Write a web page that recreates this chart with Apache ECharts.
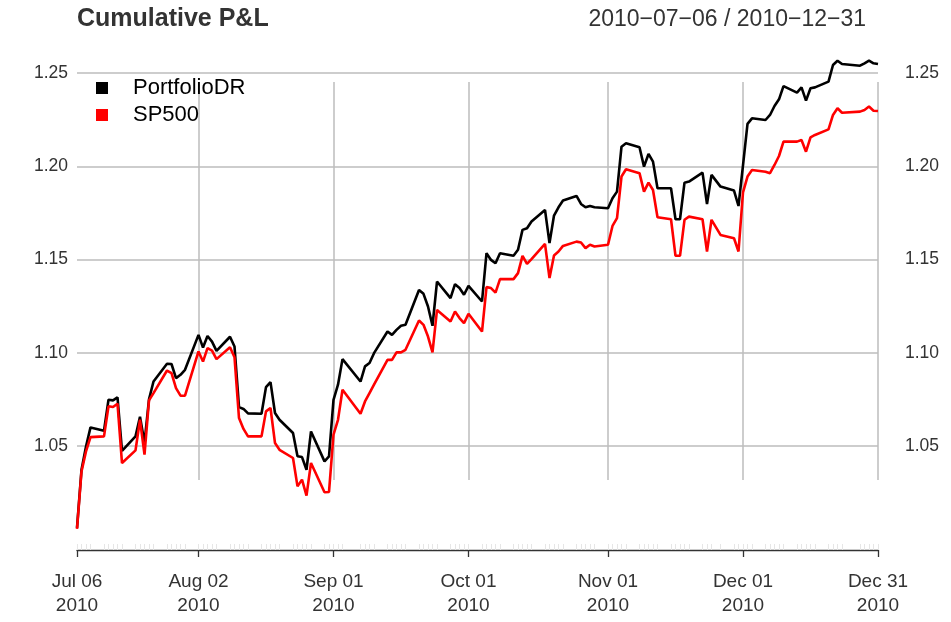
<!DOCTYPE html>
<html><head><meta charset="utf-8">
<script src="https://cdn.jsdelivr.net/npm/echarts@6/dist/echarts.min.js"></script>
<style>html,body{margin:0;padding:0;background:#fff}#chart{width:951px;height:622px}</style>
</head><body><div id="chart"></div>
<script>
const chartTitle = 'Cumulative P&L';
const dateRangeText = '2010\u221207\u221206 / 2010\u221212\u221231';
const seriesNames = ['PortfolioDR', 'SP500'];

// trading days per month (2010)
const julDays = [6,7,8,9,12,13,14,15,16,19,20,21,22,23,26,27,28,29,30];
const augDays = [2,3,4,5,6,9,10,11,12,13,16,17,18,19,20,23,24,25,26,27,30,31];
const sepDays = [1,2,3,7,8,9,10,13,14,15,16,17,20,21,22,23,24,27,28,29,30];
const octDays = [1,4,5,6,7,8,11,12,13,14,15,18,19,20,21,22,25,26,27,28,29];
const novDays = [1,2,3,4,5,8,9,10,11,12,15,16,17,18,19,22,23,24,26,29,30];
const decDays = [1,2,3,6,7,8,9,10,13,14,15,16,17,20,21,22,23,27,28,29,30,31];

const portfolioDR = [
 1.0061,1.0373,1.0498,1.0600,1.0582,1.0748,1.0745,1.0761,1.0474,1.0552,
 1.0657,1.0518,1.0750,1.0846,1.0941,1.0940,1.0864,1.0882,1.0909,
 1.1096,1.1028,1.1090,1.1060,1.1010,1.1086,1.1034,1.0709,1.0699,1.0675,
 1.0673,1.0816,1.0843,1.0677,1.0641,1.0570,1.0445,1.0441,1.0373,1.0578,
 1.0418,1.0445,
 1.0748,1.0829,1.0966,1.0846,1.0927,1.0945,1.0998,1.1114,1.1096,1.1123,
 1.1145,1.1150,1.1337,1.1316,1.1248,1.1145,1.1382,1.1293,1.1368,1.1347,
 1.1311,
 1.1359,1.1275,1.1534,1.1498,1.1480,1.1534,1.1520,1.1552,1.1659,1.1668,
 1.1704,1.1766,1.1588,1.1736,1.1780,1.1816,1.1841,1.1798,1.1780,1.1787,
 1.1780,
 1.1775,1.1829,1.1864,1.2105,1.2123,1.2102,1.1998,1.2066,1.2025,1.1882,
 1.1882,1.1716,1.1716,1.1912,1.1918,1.1966,1.1798,1.1954,1.1891,1.1870,
 1.1787,
 1.2005,1.2227,1.2257,1.2248,1.2275,1.2323,1.2359,1.2430,1.2395,1.2423,
 1.2352,1.2418,1.2423,1.2454,1.2543,1.2566,1.2548,1.2539,1.2552,1.2566,
 1.2552,1.2548
];
const sp500 = [
 1.0056,1.0364,1.0471,1.0548,1.0552,1.0713,1.0709,1.0727,1.0409,1.0477,
 1.0641,1.0454,1.0745,1.0784,1.0905,1.0891,1.0811,1.0770,1.0770,
 1.1007,1.0953,1.1025,1.1012,1.0966,1.1030,1.0976,1.0650,1.0592,1.0552,
 1.0552,1.0686,1.0704,1.0516,1.0480,1.0436,1.0284,1.0320,1.0234,1.0409,
 1.0252,1.0254,
 1.0561,1.0641,1.0802,1.0673,1.0739,1.0784,1.0829,1.0962,1.0962,1.1002,
 1.1002,1.1016,1.1173,1.1150,1.1087,1.1002,1.1230,1.1168,1.1221,1.1186,
 1.1159,
 1.1209,1.1114,1.1352,1.1347,1.1323,1.1395,1.1395,1.1427,1.1520,1.1477,
 1.1502,1.1584,1.1401,1.1522,1.1543,1.1573,1.1596,1.1591,1.1561,1.1579,
 1.1570,
 1.1579,1.1680,1.1722,1.1945,1.1984,1.1963,1.1864,1.1912,1.1873,1.1727,
 1.1716,1.1520,1.1520,1.1713,1.1730,1.1716,1.1543,1.1713,1.1632,1.1614,
 1.1543,
 1.1860,1.1945,1.1980,1.1971,1.1963,1.2007,1.2055,1.2132,1.2132,1.2141,
 1.2078,1.2155,1.2168,1.2198,1.2275,1.2311,1.2287,1.2293,1.2302,1.2320,
 1.2298,1.2296
];

const tickDates = ['2010-07-06','2010-08-02','2010-09-01','2010-10-01','2010-11-01','2010-12-01','2010-12-31'];
const gridDates = ['2010-08-02','2010-09-01','2010-10-01','2010-11-01','2010-12-01','2010-12-31'];
const yMin = 1.0, yMax = 1.25, yStep = 0.05;
const monthNames = ['Jan','Feb','Mar','Apr','May','Jun','Jul','Aug','Sep','Oct','Nov','Dec'];

function pad(n){ return n < 10 ? '0' + n : '' + n; }
const tradingDates = [];
[[7,julDays],[8,augDays],[9,sepDays],[10,octDays],[11,novDays],[12,decDays]].forEach(([m, days]) => {
  days.forEach(d => tradingDates.push('2010-' + pad(m) + '-' + pad(d)));
});
const calendar = [];
for (let t = Date.UTC(2010,6,6); t <= Date.UTC(2010,11,31); t += 86400000) {
  const d = new Date(t);
  calendar.push(d.getUTCFullYear() + '-' + pad(d.getUTCMonth()+1) + '-' + pad(d.getUTCDate()));
}
const tradingSet = new Set(tradingDates);
const tickSet = new Set(tickDates);
const gridSet = new Set(gridDates);

const FONT = 'Liberation Sans, Arial, sans-serif';
const gridColor = '#bdbdbd';
const textColor = '#333333';

const chart = echarts.init(document.getElementById('chart'), null, {renderer: 'canvas'});
chart.setOption({
  animation: false,
  backgroundColor: '#ffffff',
  title: [
    {text: chartTitle, left: 77, top: 7, padding: 0, textStyle: {fontFamily: FONT, fontSize: 25, fontWeight: 'bold', color: textColor}},
    {text: dateRangeText, right: 85, top: 8, padding: 0, textStyle: {fontFamily: FONT, fontSize: 23, fontWeight: 'normal', color: textColor}}
  ],
  legend: {
    data: seriesNames, orient: 'vertical', left: 96, top: 77, padding: 0,
    icon: 'rect', itemWidth: 12, itemHeight: 12, itemGap: 5,
    textStyle: {fontFamily: FONT, fontSize: 22, lineHeight: 22, color: '#000', padding: [0,0,0,20]}
  },
  grid: [
    {left: 77, right: 73, top: 73, bottom: 622 - 539.33},
    {left: 77, right: 73, top: 82, bottom: 142},
    {left: 77, right: 73, top: 500, bottom: 72}
  ],
  xAxis: [
    {gridIndex: 0, type: 'category', data: calendar, boundaryGap: false, show: false},
    {gridIndex: 1, type: 'category', data: calendar, boundaryGap: false,
     axisLine: {show: false}, axisTick: {show: false}, axisLabel: {show: false},
     splitLine: {show: true, interval: (i, v) => gridSet.has(v), lineStyle: {color: gridColor, width: 1.5}}},
    {gridIndex: 2, type: 'category', data: calendar, boundaryGap: false, position: 'bottom', offset: 0,
     axisLine: {show: true, lineStyle: {color: '#333', width: 1.3}},
     axisTick: {show: true, interval: (i, v) => tickSet.has(v), length: 7, lineStyle: {color: '#333', width: 1.3}},
     axisLabel: {show: true, interval: (i, v) => tickSet.has(v), margin: 20, lineHeight: 24,
       fontFamily: FONT, fontSize: 19, color: textColor,
       formatter: v => monthNames[+v.slice(5,7) - 1] + ' ' + v.slice(8,10) + '\n' + v.slice(0,4)},
     splitLine: {show: false}},
    {gridIndex: 2, type: 'category', data: calendar, boundaryGap: false, position: 'bottom', offset: 0,
     axisLine: {show: false},
     axisTick: {show: true, inside: true, interval: (i, v) => tradingSet.has(v), length: 6, lineStyle: {color: '#e6e6e6', width: 1}},
     axisLabel: {show: false}, splitLine: {show: false}}
  ],
  yAxis: [
    {gridIndex: 0, type: 'value', min: yMin, max: yMax, interval: yStep, position: 'left',
     axisLine: {show: false}, axisTick: {show: false},
     axisLabel: {showMinLabel: false, margin: 9, fontFamily: FONT, fontSize: 17.5, color: textColor, formatter: v => v.toFixed(2)},
     splitLine: {show: true, showMinLine: false, lineStyle: {color: gridColor, width: 1.5}}},
    {gridIndex: 0, type: 'value', min: yMin, max: yMax, interval: yStep, position: 'right',
     axisLine: {show: false}, axisTick: {show: false},
     axisLabel: {showMinLabel: false, margin: 27, fontFamily: FONT, fontSize: 17.5, color: textColor, formatter: v => v.toFixed(2)},
     splitLine: {show: false}},
    {gridIndex: 1, type: 'value', show: false},
    {gridIndex: 2, type: 'value', show: false}
  ],
  series: [
    {name: seriesNames[0], type: 'line', xAxisIndex: 0, yAxisIndex: 0, clip: false,
     data: tradingDates.map((d, i) => [d, portfolioDR[i]]), showSymbol: false, symbol: 'none',
     lineStyle: {color: '#000000', width: 2.6}, itemStyle: {color: '#000000'}},
    {name: seriesNames[1], type: 'line', xAxisIndex: 0, yAxisIndex: 0, clip: false,
     data: tradingDates.map((d, i) => [d, sp500[i]]), showSymbol: false, symbol: 'none',
     lineStyle: {color: '#ff0000', width: 2.6}, itemStyle: {color: '#ff0000'}}
  ]
});
</script></body></html>
